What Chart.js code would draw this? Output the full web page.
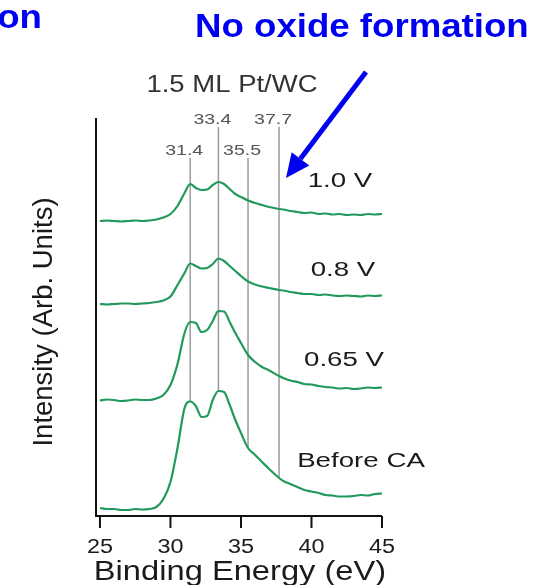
<!DOCTYPE html>
<html>
<head>
<meta charset="utf-8">
<title>Pt 4f XPS - 1.5 ML Pt/WC</title>
<script src="https://cdn.jsdelivr.net/npm/chart.js@4/dist/chart.umd.min.js"></script>
<style>
  html, body { margin: 0; padding: 0; background: #fff; }
  #wrap { width: 535px; height: 585px; position: relative; }
</style>
</head>
<body>
<div id="wrap"><canvas id="xps" width="535" height="585"></canvas></div>
<script>
// binding energy grid (eV)
const energies = [25, 25.5, 26, 26.5, 27, 27.5, 28, 28.5, 29, 29.5, 30, 30.5, 31, 31.4, 31.8,
  32.2, 32.6, 33, 33.4, 33.8, 34.2, 34.6, 35, 35.5, 36, 36.5, 37, 37.7, 38, 38.5, 39, 39.5,
  40, 40.5, 41, 41.5, 42, 42.5, 43, 43.5, 44, 44.5, 45];

// spectra, each relative to its own baseline
const spec10V = [0, 0.5, 0, -0.5, 0, 0.5, 0, 0.5, 1.5, 3.5, 7, 15, 28, 37, 33,
  31, 31.5, 36, 39, 37, 32, 27, 24, 20.5, 18, 16, 14, 12, 11.5, 10, 9, 8,
  8.5, 7, 7.5, 6.5, 7, 6, 6.5, 6, 7, 6.5, 7];
const spec08V = [0, -0.5, 0, 0.5, 0.5, 0, 0.5, 1, 2, 3.5, 7.5, 19, 31, 40.5, 38,
  35.5, 36, 40, 45.5, 43, 38, 33, 28, 22.5, 19.5, 17.5, 16, 14, 13.5, 12, 11, 10,
  10, 9, 9.5, 8.5, 8, 8.5, 8, 7.5, 8.5, 8, 8.5];
const spec065V = [-0.5, 0.5, 0, -1, -0.5, 0.5, 0, 0, 1.5, 5, 15, 36, 67, 78, 77,
  68, 70, 79, 89, 88.5, 78, 67, 57, 45, 38, 33, 29.5, 24, 22, 19.5, 18, 16,
  15.5, 14, 13, 12.5, 11.5, 12, 11, 11.5, 12.5, 12, 12.5];
const specBefore = [1, 0, 0, -1, -1, 0, -0.5, 0, 2, 10, 27, 61, 101, 107.5, 103,
  92, 93, 109, 118, 117, 104, 89, 76, 61, 54, 47, 40, 31, 28, 25, 22, 19,
  17.5, 16, 14, 13.5, 12.5, 12.5, 13, 14, 13.5, 15, 15.5];

const spectrumLabels = ['1.0 V', '0.8 V', '0.65 V', 'Before CA'];
const spectrumOffsets = [295, 212, 116, 7];

// Pt 4f reference positions and the height where each marker starts
const peakPositions = [31.4, 33.4, 35.5, 37.7];
const peakLabels = ['31.4', '33.4', '35.5', '37.7'];
const peakTops = [358, 389, 358, 389];

const xTicks = [25, 30, 35, 40, 45];

const GREEN = '#22995c';
const BLUE = '#0000f0';

const spectra = [spec10V, spec08V, spec065V, specBefore];

const spectrumSets = spectra.map((s, k) => ({
  label: spectrumLabels[k],
  data: energies.map((e, i) => ({ x: e, y: spectrumOffsets[k] + s[i] })),
  borderColor: GREEN,
  borderWidth: 2.2,
  pointRadius: 0,
  cubicInterpolationMode: 'monotone'
}));

// marker lines run down to the "Before CA" curve
const peakSets = peakPositions.map((p, k) => {
  const bottom = spectrumOffsets[3] + specBefore[energies.indexOf(p)];
  return {
    label: peakLabels[k],
    data: [{ x: p, y: peakTops[k] }, { x: p, y: bottom }],
    borderColor: '#9c9c9c',
    borderWidth: 1.5,
    pointRadius: 0
  };
});

// text helper with horizontal stretch
function stretchText(ctx, text, x, y, size, sx, color, weight, align) {
  ctx.save();
  ctx.translate(x, y);
  ctx.scale(sx, 1);
  ctx.font = (weight || 'normal') + ' ' + size + 'px "Liberation Sans", Arial, sans-serif';
  ctx.fillStyle = color;
  ctx.textAlign = align || 'center';
  ctx.textBaseline = 'alphabetic';
  ctx.fillText(text, 0, 0);
  ctx.restore();
}

const decorations = {
  id: 'decorations',
  afterDraw(chart) {
    const ctx = chart.ctx;
    const xs = chart.scales.x;
    const ys = chart.scales.y;
    const area = chart.chartArea;

    // axes
    ctx.save();
    ctx.strokeStyle = '#111';
    ctx.lineWidth = 2;
    ctx.beginPath();
    ctx.moveTo(area.left, area.top);
    ctx.lineTo(area.left, area.bottom);
    ctx.lineTo(area.right, area.bottom);
    ctx.stroke();

    // tick marks below the axis
    xTicks.forEach(t => {
      const px = xs.getPixelForValue(t);
      ctx.beginPath();
      ctx.moveTo(px, area.bottom);
      ctx.lineTo(px, area.bottom + 12);
      ctx.stroke();
      stretchText(ctx, String(t), px, area.bottom + 37, 19.5, 1.2, '#1a1a1a');
    });
    ctx.restore();

    stretchText(ctx, 'Binding Energy (eV)', 240, 580, 27, 1.21, '#1a1a1a');

    // y title
    ctx.save();
    ctx.translate(52, 322);
    ctx.rotate(-Math.PI / 2);
    ctx.font = '27.5px "Liberation Sans", Arial, sans-serif';
    ctx.fillStyle = '#1a1a1a';
    ctx.textAlign = 'center';
    ctx.fillText('Intensity (Arb. Units)', 0, 0);
    ctx.restore();

    // peak labels above marker lines
    peakPositions.forEach((p, k) => {
      const px = xs.getPixelForValue(p) - 6;
      const py = ys.getPixelForValue(peakTops[k]) - 3;
      stretchText(ctx, peakLabels[k], px, py, 15, 1.3, '#555');
    });

    stretchText(ctx, '1.5 ML Pt/WC', 232, 92, 23.5, 1.17, '#333');

    // spectrum labels
    const labelPos = [[340, 187], [343, 276], [344, 366], [361, 467]];
    spectrumLabels.forEach((l, k) => {
      stretchText(ctx, l, labelPos[k][0], labelPos[k][1], 20.5, 1.35, '#1a1a1a');
    });

    // slide annotation
    stretchText(ctx, 'No oxide formation', 195, 37, 33, 1.11, BLUE, 'bold', 'left');
    stretchText(ctx, 'on', 42, 28, 33, 1.11, BLUE, 'bold', 'right');

    // arrow
    const x0 = 366, y0 = 72, x1 = 286, y1 = 178;
    const ang = Math.atan2(y1 - y0, x1 - x0);
    const headLen = 24, headW = 11;
    const bx = x1 - headLen * Math.cos(ang), by = y1 - headLen * Math.sin(ang);
    ctx.save();
    ctx.strokeStyle = BLUE;
    ctx.fillStyle = BLUE;
    ctx.lineWidth = 5;
    ctx.beginPath();
    ctx.moveTo(x0, y0);
    ctx.lineTo(bx, by);
    ctx.stroke();
    ctx.beginPath();
    ctx.moveTo(x1, y1);
    ctx.lineTo(bx + headW * Math.sin(ang), by - headW * Math.cos(ang));
    ctx.lineTo(bx - headW * Math.sin(ang), by + headW * Math.cos(ang));
    ctx.closePath();
    ctx.fill();
    ctx.restore();
  }
};

new Chart(document.getElementById('xps'), {
  type: 'line',
  data: { datasets: spectrumSets.concat(peakSets) },
  options: {
    responsive: false,
    animation: false,
    devicePixelRatio: 1,
    layout: { padding: { left: 96, top: 118, right: 153, bottom: 69 } },
    plugins: { legend: { display: false }, tooltip: { enabled: false } },
    scales: {
      x: { type: 'linear', min: 24.72, max: 45, display: false },
      y: { min: 0, max: 398, display: false }
    }
  },
  plugins: [decorations]
});
</script>
</body>
</html>
